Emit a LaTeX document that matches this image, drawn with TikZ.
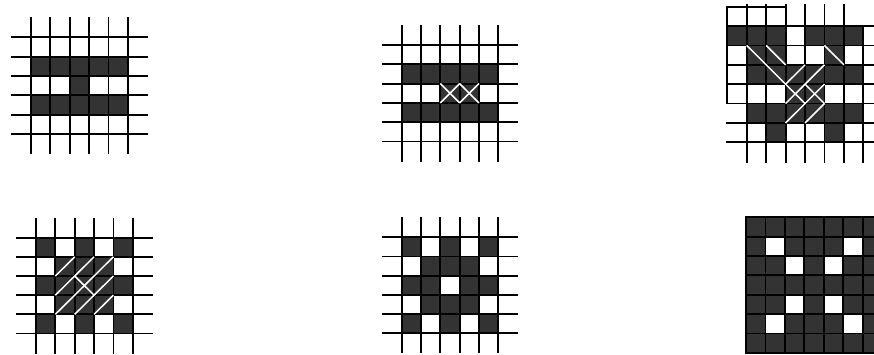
\documentclass[tikz,border=0pt]{standalone}
\begin{document}
\begin{tikzpicture}[x=1pt,y=-1pt,
  gl/.style={line width=1.8pt, black, line cap=rect},
  dk/.style={fill=black!80},
  wl/.style={white, line width=1.5pt}]
\useasboundingbox (0,0) rectangle (874,354);
\clip (0,0) rectangle (874,354);
% Grid 1
\begin{scope}[shift={(31,37.3)}, x=19.35pt, y=-19.35pt]
  \foreach \c/\r in {0/1,1/1,2/1,3/1,4/1,2/2,0/3,1/3,2/3,3/3,4/3}
    \fill[dk] (\c,\r) rectangle ++(1,1);
  \foreach \i in {0,...,5} {\draw[gl] (\i,-1) -- (\i,6); \draw[gl] (-1,\i) -- (6,\i);}
\end{scope}
% Grid 2
\begin{scope}[shift={(401.7,45)}, x=19.3pt, y=-19.3pt]
  \foreach \c/\r in {0/1,1/1,2/1,3/1,4/1,2/2,3/2,0/3,1/3,2/3,3/3,4/3}
    \fill[dk] (\c,\r) rectangle ++(1,1);
  \foreach \i in {0,...,5} {\draw[gl] (\i,-1) -- (\i,6); \draw[gl] (-1,\i) -- (6,\i);}
  \draw[wl] (2,2) -- (3,3); \draw[wl] (2,3) -- (3,2);
  \draw[wl] (3,2) -- (4,3); \draw[wl] (3,3) -- (4,2);
\end{scope}
% Grid 3
\begin{scope}[shift={(727.3,6.7)}, x=19.43pt, y=-19.37pt]
  \foreach \c/\r in {0/1,1/1,2/1,4/1,5/1,6/1,1/2,2/2,5/2,1/3,2/3,3/3,4/3,5/3,6/3,3/4,4/4,1/5,2/5,3/5,4/5,5/5,6/5,2/6,5/6}
    \fill[dk] (\c,\r) rectangle ++(1,1);
  \foreach \j in {1,...,7} \draw[gl] (0,\j) -- (8,\j);
  \foreach \i in {1,...,6} \draw[gl] (\i,-0.08) -- (\i,8);
  \draw[gl] (7,1) -- (7,8);
  \draw[gl, line join=miter] (0,5) -- (0,0) -- (3,0) -- (3,1);
  \draw[wl] (3,4) -- (4,3);
  \draw[wl] (3,5) -- (5,3);
  \draw[wl] (3,6) -- (5,4);
  \draw[wl] (4,6) -- (5,5);
  \draw[wl] (1,2) -- (4,5);
  \draw[wl] (2,2) -- (3,3);
  \draw[wl] (5,2) -- (6,3);
  \draw[wl] (4,4) -- (5,5);
\end{scope}
% Grid 4
\begin{scope}[shift={(36,237.7)}, x=19.35pt, y=-19.15pt]
  \foreach \c/\r in {0/0,2/0,4/0,1/1,2/1,3/1,0/2,1/2,2/2,3/2,4/2,1/3,2/3,3/3,0/4,2/4,4/4}
    \fill[dk] (\c,\r) rectangle ++(1,1);
  \foreach \i in {0,...,5} {\draw[gl] (\i,-1) -- (\i,6); \draw[gl] (-1,\i) -- (6,\i);}
  \draw[wl] (1,2) -- (2,1);
  \draw[wl] (1,3) -- (3,1);
  \draw[wl] (1,4) -- (4,1);
  \draw[wl] (2,4) -- (4,2);
  \draw[wl] (3,4) -- (4,3);
  \draw[wl] (2,2) -- (3,3);
\end{scope}
% Grid 5
\begin{scope}[shift={(401.7,237.3)}, x=19.3pt, y=-19.2pt]
  \foreach \c/\r in {0/0,2/0,4/0,1/1,2/1,3/1,0/2,1/2,3/2,4/2,1/3,2/3,3/3,0/4,2/4,4/4}
    \fill[dk] (\c,\r) rectangle ++(1,1);
  \foreach \i in {0,...,5} {\draw[gl] (\i,-1) -- (\i,6); \draw[gl] (-1,\i) -- (6,\i);}
\end{scope}
% Grid 6
\begin{scope}[shift={(746,217.3)}, x=19.45pt, y=-19.35pt]
  \fill[dk] (0,0) rectangle (7,7);
  \foreach \c/\r in {1/1,5/1,2/2,4/2,2/4,4/4,1/5,5/5}
    \fill[white] (\c,\r) rectangle ++(1,1);
  \foreach \i in {0,...,7} {\draw[gl] (\i,0) -- (\i,7); \draw[gl] (0,\i) -- (7,\i);}
\end{scope}
\end{tikzpicture}
\end{document}
